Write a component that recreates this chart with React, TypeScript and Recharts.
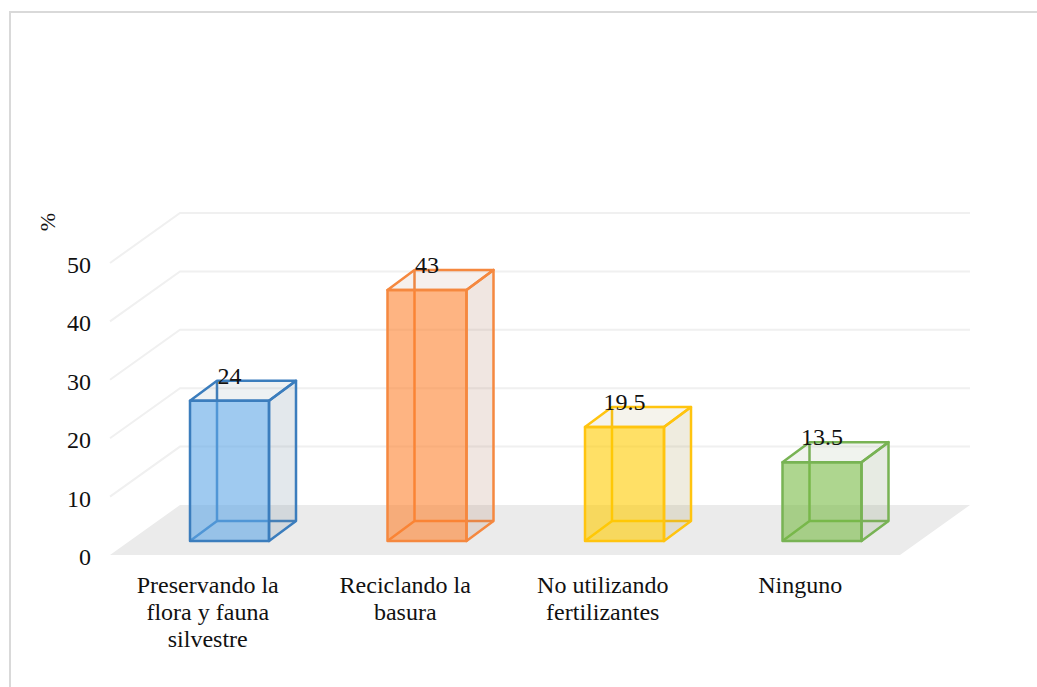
import { Bar, BarChart, LabelList, XAxis, YAxis } from 'recharts';

const categories = [
  'Preservando la\nflora y fauna\nsilvestre',
  'Reciclando la\nbasura',
  'No utilizando\nfertilizantes',
  'Ninguno',
];
const percentages = [24, 43, 19.5, 13.5];
const yTicks = [0, 10, 20, 30, 40, 50];

const rows = categories.map((name, i) => ({ name, value: percentages[i] }));

const FONT = '"Liberation Serif", "Times New Roman", serif';
const FONT_SIZE = 24;

const WIDTH = 1037;
const HEIGHT = 687;
const PLOT_LEFT = 110;
const PLOT_RIGHT = 900;
const PLOT_TOP = 263;
const AXIS_HEIGHT = 132;

// oblique projection of the floor and of the boxes standing on it
const FLOOR_DX = 70;
const FLOOR_DY = -50;
const BASE_DX = 21;
const BASE_DY = -14;
const BOX_DX = 27;
const BOX_DY = -20;

const edges = ['#3B7DBD', '#F5883F', '#FFC40F', '#78B354'];
const fronts = ['#5FA7E6', '#FD822F', '#FFCB00', '#78BB44'];
const sides = ['#738CA0', '#B48269', '#AFA05F', '#879B73'];

function YTick({ y, payload }: any) {
  const backY = y + FLOOR_DY;
  const backLeft = PLOT_LEFT + FLOOR_DX;
  const backRight = PLOT_RIGHT + FLOOR_DX;
  return (
    <g>
      {payload.value === 0 ? (
        <polygon
          points={`${PLOT_LEFT},${y} ${PLOT_RIGHT},${y} ${backRight},${backY} ${backLeft},${backY}`}
          fill="#ebebeb"
        />
      ) : (
        <polyline
          points={`${PLOT_LEFT},${y} ${backLeft},${backY} ${backRight},${backY}`}
          fill="none"
          stroke="#f0f0f0"
          strokeWidth={2}
        />
      )}
      <text x={91} y={y + 10} textAnchor="end" fontFamily={FONT} fontSize={FONT_SIZE} fill="#111">
        {payload.value}
      </text>
    </g>
  );
}

function XTick({ x, y, payload }: any) {
  return (
    <text textAnchor="middle" fontFamily={FONT} fontSize={FONT_SIZE} fill="#111">
      {String(payload.value)
        .split('\n')
        .map((line: string, i: number) => (
          <tspan key={line} x={x - 1} y={y + 30 + i * 27}>
            {line}
          </tspan>
        ))}
    </text>
  );
}

function Box({ x, y, width, height, index }: any) {
  const left = x + BASE_DX;
  const right = left + width;
  const top = y + BASE_DY;
  const bottom = top + height;
  const edge = edges[index];
  const face = (pts: number[][]) => pts.map((p) => p.join(',')).join(' ');
  return (
    <g stroke={edge} strokeWidth={2.5} strokeLinejoin="round">
      {/* hidden edges first, the faces lie over them */}
      <polyline
        points={face([
          [left, bottom],
          [left + BOX_DX, bottom + BOX_DY],
          [left + BOX_DX, top + BOX_DY],
        ])}
        fill="none"
      />
      <line x1={left + BOX_DX} y1={bottom + BOX_DY} x2={right + BOX_DX} y2={bottom + BOX_DY} />
      <polygon
        points={face([
          [right, top],
          [right + BOX_DX, top + BOX_DY],
          [right + BOX_DX, bottom + BOX_DY],
          [right, bottom],
        ])}
        fill={sides[index]}
        fillOpacity={0.2}
      />
      <polygon
        points={face([
          [left, top],
          [left + BOX_DX, top + BOX_DY],
          [right + BOX_DX, top + BOX_DY],
          [right, top],
        ])}
        fill={sides[index]}
        fillOpacity={0.12}
      />
      <rect x={left} y={top} width={width} height={height} fill={fronts[index]} fillOpacity={0.6} />
    </g>
  );
}

function ValueLabel({ x, y, width, value }: any) {
  return (
    <text
      x={x + BASE_DX + width / 2}
      y={y + BASE_DY + BOX_DY + 3}
      textAnchor="middle"
      fontFamily={FONT}
      fontSize={FONT_SIZE}
      fill="#111"
    >
      {value}
    </text>
  );
}

const layer = { position: 'absolute', left: 0, top: 0 } as const;

export default function App() {
  return (
    <div style={{ position: 'absolute', left: 0, top: 0, width: WIDTH, height: HEIGHT, overflow: 'hidden', background: '#fff' }}>
      <div
        style={{
          position: 'absolute',
          left: 9,
          top: 11,
          right: 0,
          bottom: 0,
          borderLeft: '2px solid #d9d9d9',
          borderTop: '2px solid #d9d9d9',
        }}
      />
      {/* axes, walls and floor sit in their own chart so the boxes can lie over them */}
      <div style={layer}>
        <BarChart
          width={WIDTH}
          height={HEIGHT}
          data={rows}
          margin={{ top: PLOT_TOP, right: WIDTH - PLOT_RIGHT, bottom: 0, left: 0 }}
        >
          <YAxis
            width={PLOT_LEFT}
            domain={[0, 50]}
            ticks={yTicks}
            interval={0}
            axisLine={false}
            tickLine={false}
            tick={YTick}
            label={{
              content: () => (
                <text
                  transform="translate(55 222) rotate(-90)"
                  textAnchor="middle"
                  fontFamily={FONT}
                  fontSize={22}
                  fill="#111"
                >
                  %
                </text>
              ),
            }}
          />
          <XAxis dataKey="name" height={AXIS_HEIGHT} interval={0} axisLine={false} tickLine={false} tick={XTick} />
          <Bar dataKey="value" fill="none" isAnimationActive={false} />
        </BarChart>
      </div>
      <div style={layer}>
        <BarChart
          width={WIDTH}
          height={HEIGHT}
          data={rows}
          barSize={79}
          margin={{ top: PLOT_TOP, right: WIDTH - PLOT_RIGHT, bottom: AXIS_HEIGHT, left: PLOT_LEFT }}
        >
          <YAxis hide domain={[0, 50]} />
          <XAxis hide dataKey="name" />
          <Bar dataKey="value" shape={Box} isAnimationActive={false}>
            <LabelList dataKey="value" content={ValueLabel} />
          </Bar>
        </BarChart>
      </div>
    </div>
  );
}
